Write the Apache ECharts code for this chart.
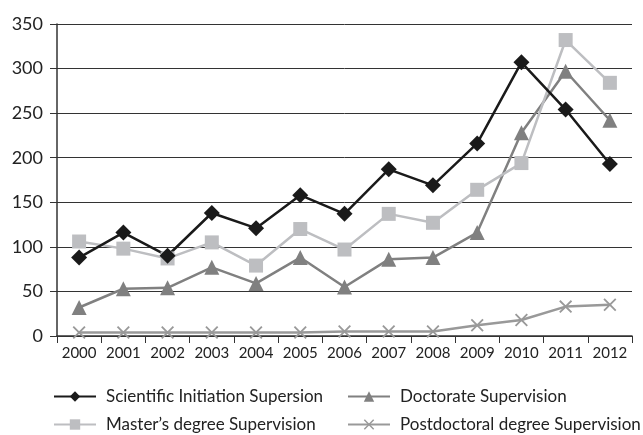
<!DOCTYPE html>
<html>
<head>
<meta charset="utf-8">
<script src="https://cdn.jsdelivr.net/npm/echarts@6/dist/echarts.min.js"></script>
<style>
  html, body { margin: 0; padding: 0; background: #fff; }
  #chart { width: 643px; height: 435px; }
</style>
</head>
<body>
<div id="chart"></div>
<script>
// 数据
const years = ['2000', '2001', '2002', '2003', '2004', '2005', '2006', '2007', '2008', '2009', '2010', '2011', '2012'];
const scientific = [88, 116, 90, 138, 121, 158, 137, 187, 169, 216, 307, 254, 193];
const masters = [106, 98, 87, 105, 79, 120, 97, 137, 127, 164, 194, 332, 284];
const doctorate = [32, 53, 54, 77, 59, 88, 55, 86, 88, 116, 228, 297, 242];
const postdoc = [4, 4, 4, 4, 4, 4, 5, 5, 5, 12, 18, 33, 35];

const names = ['Scientific Initiation Supersion', 'Doctorate Supervision', 'Master’s degree Supervision', 'Postdoctoral degree Supervision'];
const crossPath = 'path://M1,0L5,4L9,0L10,1L6,5L10,9L9,10L5,6L1,10L0,9L4,5L0,1Z';
const font = 'Lato';

function lineSeries(name, data, color, symbol, size) {
    return {
        'name': name,
        'type': 'line',
        'data': data,
        'symbol': symbol,
        'symbolSize': size,
        'showAllSymbol': true,
        'lineStyle': { 'color': color, 'width': 2.5 },
        'itemStyle': { 'color': color },
        'animation': false
    };
}

// 图例：两行两列，每个单独放
function legendItem(name, left, top) {
    return {
        'left': left,
        'top': top,
        'itemWidth': 42,
        'itemHeight': 13,
        'data': [name],
        'textStyle': { 'color': '#222', 'fontSize': 17, 'fontFamily': font, 'padding': [0, 0, 0, 5] }
    };
}

let myChart = echarts.init(document.getElementById('chart'));
myChart.setOption({
    'backgroundColor': '#fff',
    'grid': {
        'left': 57,
        'right': 11,
        'top': 24,
        'bottom': 99,
        'containLabel': false
    },
    'legend': [
        legendItem(names[0], 48, 383),
        legendItem(names[1], 342, 383),
        legendItem(names[2], 48, 411),
        legendItem(names[3], 342, 411)
    ],
    'xAxis': {
        'type': 'category',
        'data': years,
        'boundaryGap': true,
        'axisLine': { 'lineStyle': { 'color': '#333', 'width': 1.5 } },
        'axisTick': { 'show': true, 'length': 7, 'lineStyle': { 'color': '#333' } },
        'axisLabel': { 'color': '#222', 'fontSize': 15, 'fontFamily': font, 'margin': 10, 'interval': 0 }
    },
    'yAxis': {
        'type': 'value',
        'min': 0,
        'max': 350,
        'interval': 50,
        'axisLine': { 'show': true, 'lineStyle': { 'color': '#333', 'width': 1.5 } },
        'axisTick': { 'show': true, 'length': 7, 'lineStyle': { 'color': '#333' } },
        'axisLabel': { 'color': '#222', 'fontSize': 18, 'fontFamily': font, 'margin': 14 },
        'splitLine': { 'show': true, 'lineStyle': { 'color': '#333', 'width': 1 } }
    },
    'series': [
        lineSeries(names[3], postdoc, '#999999', crossPath, 13),
        lineSeries(names[1], doctorate, '#808080', 'triangle', 15),
        lineSeries(names[2], masters, '#bdbec1', 'rect', 14),
        lineSeries(names[0], scientific, '#1a1a1a', 'diamond', 16)
    ]
});
</script>
</body>
</html>
